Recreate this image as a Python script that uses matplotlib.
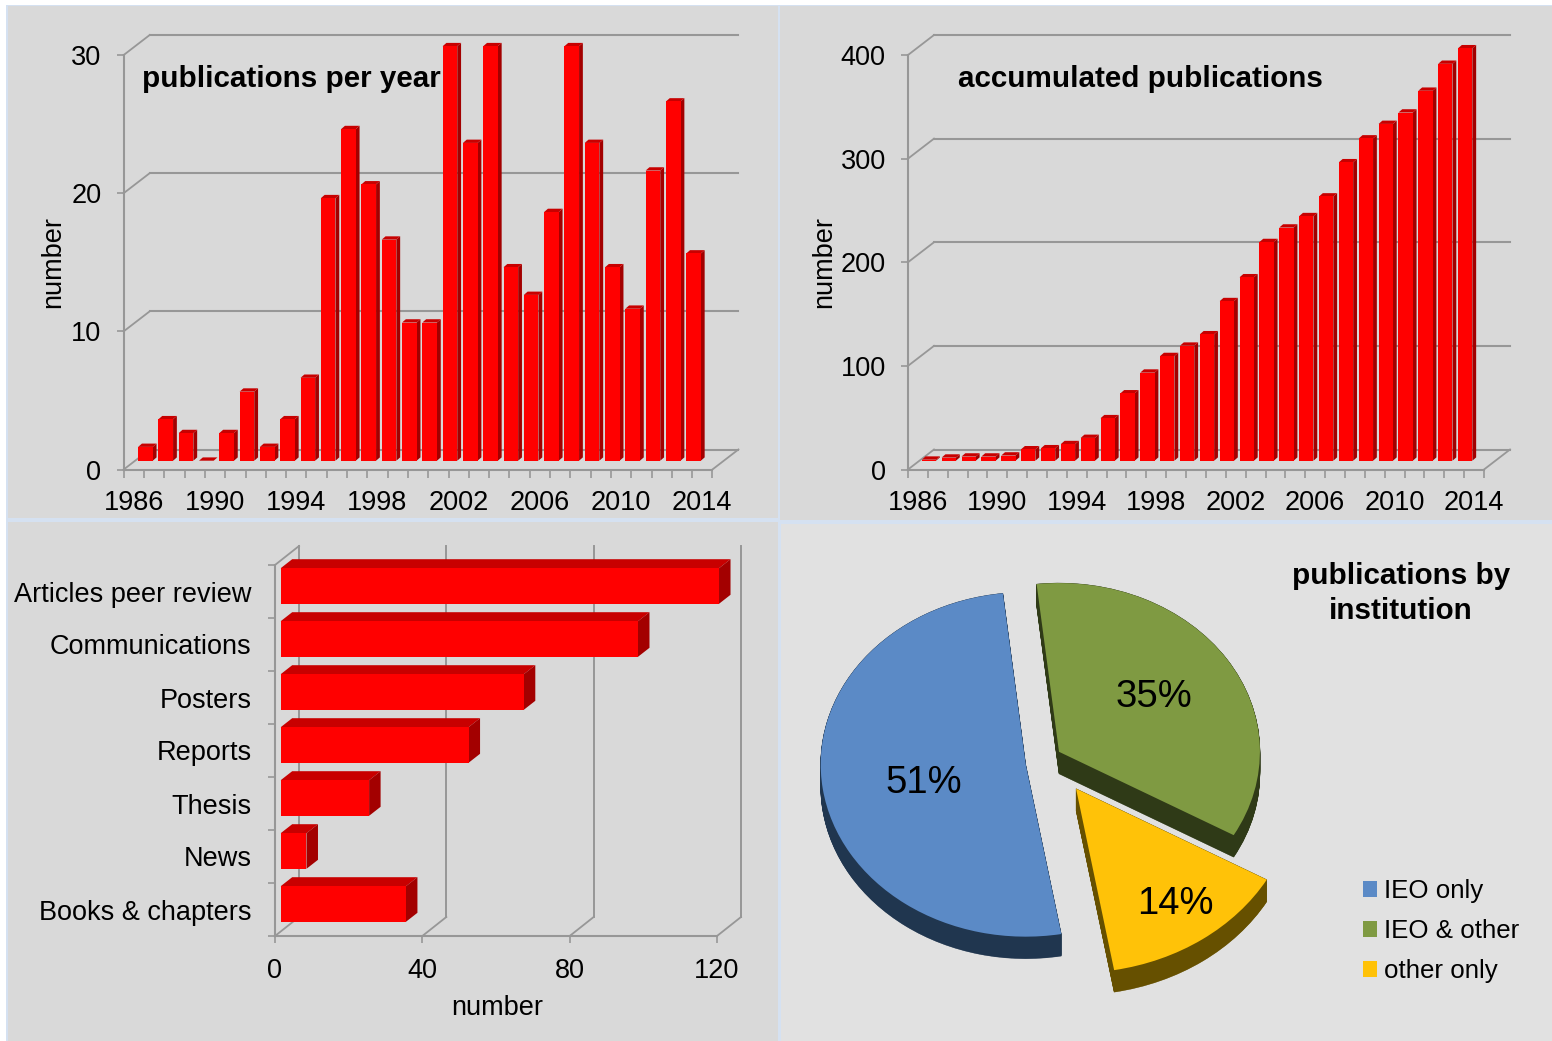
import numpy as np
import matplotlib
matplotlib.use("Agg")
import matplotlib.pyplot as plt
from matplotlib.patches import Rectangle, Wedge
from matplotlib.transforms import Affine2D

W, H = 1552, 1041
plt.rcParams['font.family'] = ['Liberation Sans', 'DejaVu Sans']

years = np.arange(1986, 2014)
per_year = [1, 3, 2, 0, 2, 5, 1, 3, 6, 19, 24, 20, 16, 10, 10, 30, 23, 30, 14, 12, 18, 30, 23, 14, 11, 21, 26, 15]
accumulated = [1, 3, 4, 4, 5, 11, 12, 16, 22, 41, 65, 85, 101, 111, 122, 154, 177, 211, 225, 236, 255, 288, 311,
               325, 336, 357, 383, 398]
year_labels = [1986, 1990, 1994, 1998, 2002, 2006, 2010, 2014]

kinds = ['Articles peer review', 'Communications', 'Posters', 'Reports', 'Thesis', 'News', 'Books & chapters']
kind_counts = [119, 97, 66, 51, 24, 7, 34]

institutions = ['IEO only', 'IEO & other', 'other only']
institution_pct = [51, 35, 14]

GRID = '#979797'
FRONT, TOP, SIDE = '#ff0000', '#c80000', '#a30000'


def px_axes(x0, y0, x1, y1, **kw):
    return fig.add_axes([x0 / W, 1 - y1 / H, (x1 - x0) / W, (y1 - y0) / H], facecolor='none', **kw)


def px_rect(x0, y0, x1, y1, color):
    fig.add_artist(Rectangle((x0 / W, 1 - y1 / H), (x1 - x0) / W, (y1 - y0) / H, color=color, lw=0,
                             transform=fig.transFigure, zorder=-5))


def px_text(x, y, s, **kw):
    fig.text(x / W, 1 - y / H, s, va='center', **kw)


def style_axis(ax):
    for side in ['top', 'right']:
        ax.spines[side].set_visible(False)
    for side in ['left', 'bottom']:
        ax.spines[side].set_color(GRID)
        ax.spines[side].set_linewidth(1.5)
    ax.tick_params(which='major', color=GRID, width=1.2, length=5)
    ax.patch.set_alpha(0)


def column_chart(box, values, ymax, yticks, width, bar_dx, base_px, label_pad):
    ax = px_axes(*box)
    style_axis(ax)
    px_x = (box[2] - box[0]) / 29.0
    px_y = (box[3] - box[1]) / float(ymax)
    ax.set_xlim(1985.5, 2014.5)
    ax.set_ylim(0, ymax)
    wall = ax.transData + Affine2D().translate(26, 20)
    for v in yticks:
        ax.plot([1985.5, 2014.5], [v, v], color=GRID, lw=1.5, transform=wall, clip_on=False, zorder=1)
        ax.plot([1985.5, 1985.5 + 26 / px_x], [v, v + 20 / px_y], color=GRID, lw=1.3, clip_on=False, zorder=1)
    ax.plot([2014.5, 2014.5 + 26 / px_x], [0, 20 / px_y], color=GRID, lw=1.3, clip_on=False, zorder=1)

    x = years + bar_dx / px_x
    base = base_px / px_y
    dx, dy = 3.8 / px_x, 3.3 / px_y
    for xi, v in zip(x, values):
        l, r, t = xi - width / 2, xi + width / 2, base + v
        ax.fill([r, r + dx, r + dx, r], [base, base + dy, t + dy, t], color=SIDE, lw=0, zorder=3, clip_on=False)
        ax.fill([l, l + dx, r + dx, r], [t, t + dy, t + dy, t], color=TOP, lw=0, zorder=3, clip_on=False)
    ax.bar(x, values, width=width, bottom=base, color=FRONT, lw=0, zorder=4, clip_on=False)

    ax.set_yticks(yticks)
    ax.tick_params(axis='y', labelsize=19.5, pad=label_pad)
    ax.set_xticks(np.arange(1985.5, 2015))
    ax.set_xticklabels([])
    ax.set_xticks(year_labels, labels=[str(y) for y in year_labels], minor=True)
    ax.tick_params(axis='x', which='major', length=5.5)
    ax.tick_params(axis='x', which='minor', length=0, pad=15, labelsize=19.5)
    return ax


fig = plt.figure(figsize=(W / 100, H / 100), dpi=100, facecolor='white')

# panel backgrounds
px_rect(6, 5, W, H, '#d5e1f1')
px_rect(8, 6, 778, 518, '#d9d9d9')
px_rect(780, 6, W, 520, '#d9d9d9')
px_rect(8, 522, 778, H, '#d9d9d9')
px_rect(781, 524, W, H, '#e1e1e1')

# publications per year
ax1 = column_chart((123.7, 55, 712.4, 469.5), per_year, 30, [0, 10, 20, 30], 0.72, 11.6, 8.8, 11)
ax1.set_ylabel('number', fontsize=19.5)
ax1.yaxis.set_label_coords((54 - 123.7 + 12) / 588.7, 0.5)
px_text(142, 79, 'publications per year', fontsize=21.3, fontweight='bold')

# accumulated publications
ax2 = column_chart((908, 55, 1484, 469.5), accumulated, 400, [0, 100, 200, 300, 400], 0.72, 11, 8.8, 11)
ax2.set_ylabel('number', fontsize=19.5)
ax2.yaxis.set_label_coords((825 - 908 + 12) / 576.0, 0.5)
px_text(958, 79, 'accumulated publications', fontsize=21.3, fontweight='bold')

# publication types
ax3 = px_axes(275, 565, 717, 936)
style_axis(ax3)
ax3.set_xlim(0, 120)
ax3.set_ylim(6.5, -0.5)
px_u = 442 / 120.0
px_c = 371 / 7.0
wall3 = ax3.transData + Affine2D().translate(24, 19)
for v in [0, 40, 80, 120]:
    ax3.plot([v, v], [6.5, -0.5], color=GRID, lw=1.4, transform=wall3, clip_on=False, zorder=1)
    ax3.plot([v, v + 24 / px_u], [6.5, 6.5 - 19 / px_c], color=GRID, lw=1.3, clip_on=False, zorder=1)
ax3.plot([0, 24 / px_u], [-0.5, -0.5 - 19 / px_c], color=GRID, lw=1.3, clip_on=False, zorder=1)

base3 = 5.7 / px_u
h3 = 35.6 / px_c
pos3 = np.arange(len(kinds)) - 5.5 / px_c
dx3, dy3 = 11.5 / px_u, 9.0 / px_c
for yi, v in zip(pos3, kind_counts):
    top, bot, r = yi - h3 / 2, yi + h3 / 2, base3 + v
    ax3.fill([base3, base3 + dx3, r + dx3, r], [top, top - dy3, top - dy3, top], color=TOP, lw=0, zorder=3)
    ax3.fill([r, r + dx3, r + dx3, r], [bot, bot - dy3, top - dy3, top], color=SIDE, lw=0, zorder=3)
ax3.barh(pos3, kind_counts, height=h3, left=base3, color=FRONT, lw=0, zorder=4)
for c in ax3.collections + ax3.patches:
    c.set_clip_on(False)

ax3.set_xticks([0, 40, 80, 120])
ax3.tick_params(axis='x', labelsize=19.5, pad=10.5)
ax3.set_yticks(np.arange(-0.5, 7))
ax3.set_yticklabels([])
ax3.set_yticks(np.arange(len(kinds)), labels=kinds, minor=True)
ax3.tick_params(axis='y', which='minor', length=0, pad=17, labelsize=19.5)
ax3.set_xlabel('number', fontsize=19.5)
ax3.xaxis.set_label_coords((497 - 275) / 442.0, -(1006 - 936 - 11) / 371.0)

# pie
ax4 = px_axes(781, 524, W, H)
pie_colors = ['#5b8ac6', '#7f9a42', '#ffc208']
side_colors = ['#20364f', '#2f3a17', '#665000']
wedges, _ = ax4.pie(institution_pct, colors=pie_colors, startangle=280, counterclock=False,
                    explode=[0.1, 0.076, 0.25], radius=1, wedgeprops={'lw': 0, 'zorder': 5})
ax4.set_aspect('auto')
cx, cy, rpx, squash = 1045, 757, 205.0, 0.84
ax4.set_xlim((781 - cx) / rpx, (W - cx) / rpx)
ax4.set_ylim(-(H - cy) / (rpx * squash), (cy - 524) / (rpx * squash))
ax4.set_axis_off()
depth = 22 / (rpx * squash)
radii = [1.0, 0.98, 1.07]
center_nudge = [(1.0, -5), (1, -2), (1.5, 3.5)]
pct_dist = [0.505, 0.56, 0.8]
pct_offset = [(1, -6.5), (-1, 1.5), (5, -2.5)]
for w, sc, pct, d, rad, nudge, off in zip(wedges, side_colors, institution_pct, pct_dist, radii, center_nudge, pct_offset):
    w.set_radius(rad)
    w.set_center((w.center[0] + nudge[0] / rpx, w.center[1] + nudge[1] / (rpx * squash)))
    for k in np.linspace(0, depth, 45):
        ax4.add_patch(Wedge((w.center[0], w.center[1] - k), w.r, w.theta1, w.theta2, color=sc, lw=0.3, zorder=2))
    mid = np.radians((w.theta1 + w.theta2) / 2)
    ax4.annotate('%d%%' % pct, (w.center[0] + d * np.cos(mid), w.center[1] + d * np.sin(mid)), xytext=off,
                 textcoords='offset pixels', fontsize=27.5, ha='center', va='center', zorder=6)
ax4.legend(wedges, institutions, loc='center left', bbox_to_anchor=((1363 - 781) / (W - 781.0), (H - 931) / (H - 524.0)),
           frameon=False, fontsize=18.6, handlelength=0.55, handleheight=0.55, handletextpad=0.27, labelspacing=0.62,
           borderpad=0, borderaxespad=0)
px_text(1401, 593.5, 'publications by\ninstitution', fontsize=21.3, fontweight='bold', ha='center', linespacing=1.35)

fig.savefig('out.png', dpi=100)
